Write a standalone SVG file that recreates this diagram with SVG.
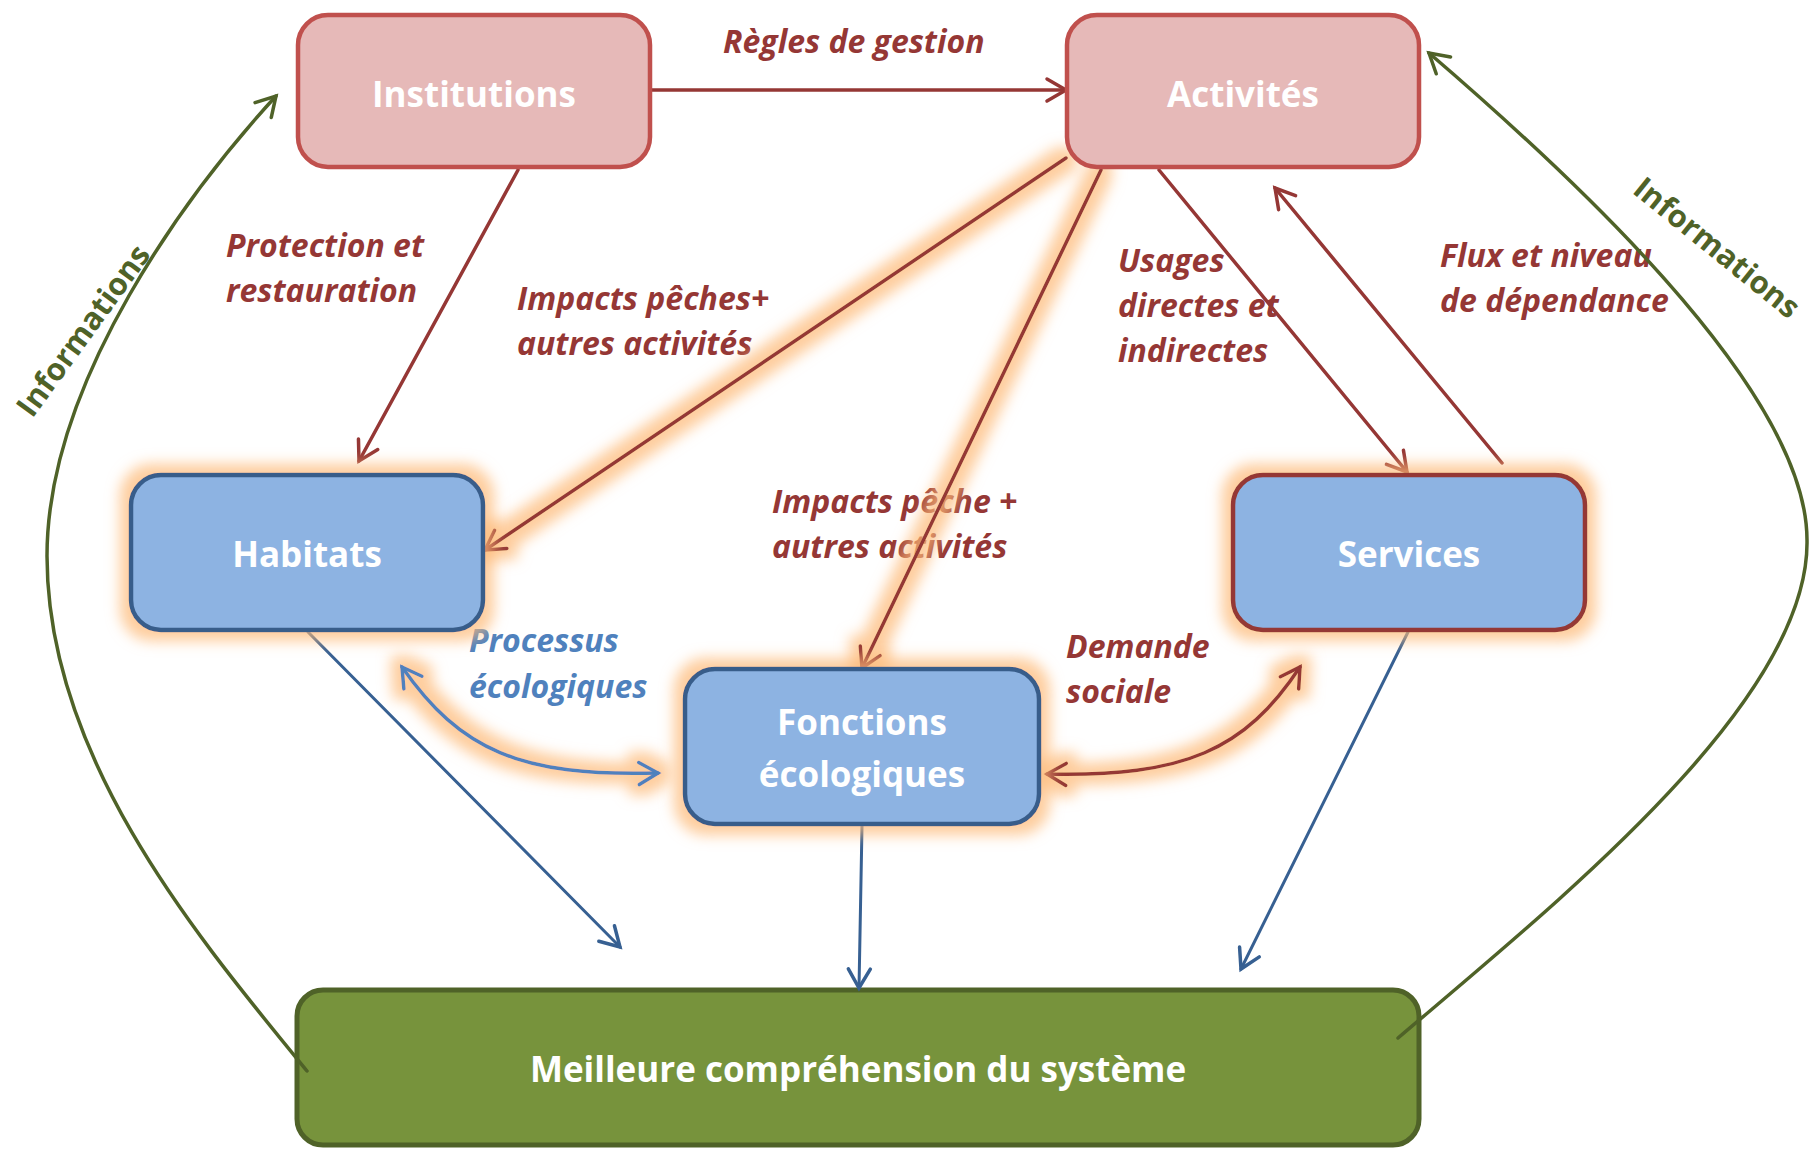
<svg xmlns="http://www.w3.org/2000/svg" width="1816" height="1152" viewBox="0 0 1816 1152">
  <defs>
    <style>
      .title { font-family: "Open Sans", "Noto Sans", "DejaVu Sans", sans-serif; font-weight: 700; font-size: 35px; fill: #ffffff; text-anchor: middle; }
      .lbl { font-family: "Open Sans", "Noto Sans", "DejaVu Sans", sans-serif; font-weight: 700; font-style: italic; font-size: 32px; }
      .red { fill: #953735; }
      .blue { fill: #4F81BD; }
      .info { font-family: "Open Sans", "Noto Sans", "DejaVu Sans", sans-serif; font-weight: 700; font-size: 31px; fill: #4F6228; text-anchor: middle; }
      .pink { fill: #E6B9B8; stroke: #C0504D; stroke-width: 4.5; }
      .sky { fill: #8DB3E2; stroke: #385D8A; stroke-width: 4.5; }
      .sky-red { fill: #8DB3E2; stroke: #953735; stroke-width: 4.5; }
      .olive { fill: #77933C; stroke: #4F6228; stroke-width: 5; }
      .c-red { fill: none; stroke: #953735; stroke-width: 3.5; stroke-linecap: round; marker-end: url(#ah-red); }
      .c-blue { fill: none; stroke: #376092; stroke-width: 3; stroke-linecap: round; marker-end: url(#ah-blue); }
      .c-green { fill: none; stroke: #4F6228; stroke-width: 3.5; stroke-linecap: round; marker-end: url(#ah-green); }
      .c-proc { fill: none; stroke: #4F81BD; stroke-width: 3.5; stroke-linecap: round; marker-start: url(#ah-lblue); marker-end: url(#ah-lblue); }
      .c-dem { fill: none; stroke: #953735; stroke-width: 3.5; stroke-linecap: round; marker-start: url(#ah-red); marker-end: url(#ah-red); }
    </style>
    <!-- open chevron arrowheads -->
    <marker id="ah-red" markerUnits="userSpaceOnUse" markerWidth="40" markerHeight="40" viewBox="-30 -20 40 40" refX="0" refY="0" orient="auto-start-reverse" overflow="visible">
      <path d="M-19,-11 L0,0 L-19,11" fill="none" stroke="#953735" stroke-width="3.5" stroke-linecap="round"/>
    </marker>
    <marker id="ah-blue" markerUnits="userSpaceOnUse" markerWidth="40" markerHeight="40" viewBox="-30 -20 40 40" refX="0" refY="0" orient="auto-start-reverse" overflow="visible">
      <path d="M-19,-11 L0,0 L-19,11" fill="none" stroke="#376092" stroke-width="3.5" stroke-linecap="round"/>
    </marker>
    <marker id="ah-lblue" markerUnits="userSpaceOnUse" markerWidth="40" markerHeight="40" viewBox="-30 -20 40 40" refX="0" refY="0" orient="auto-start-reverse" overflow="visible">
      <path d="M-19,-11 L0,0 L-19,11" fill="none" stroke="#4F81BD" stroke-width="3.5" stroke-linecap="round"/>
    </marker>
    <marker id="ah-green" markerUnits="userSpaceOnUse" markerWidth="40" markerHeight="40" viewBox="-30 -20 40 40" refX="0" refY="0" orient="auto-start-reverse" overflow="visible">
      <path d="M-19,-11 L0,0 L-19,11" fill="none" stroke="#4F6228" stroke-width="3.5" stroke-linecap="round"/>
    </marker>
    <!-- soft orange halo -->
    <filter id="glow" filterUnits="userSpaceOnUse" x="0" y="0" width="1816" height="1152">
      <feMorphology in="SourceAlpha" operator="dilate" radius="9" result="d"/>
      <feGaussianBlur in="d" stdDeviation="7" result="b"/>
      <feFlood flood-color="#FDBA78" flood-opacity="0.72"/>
      <feComposite in2="b" operator="in" result="g"/>
      <feMerge>
        <feMergeNode in="g"/>
        <feMergeNode in="SourceGraphic"/>
      </feMerge>
    </filter>
  </defs>

  <rect width="1816" height="1152" fill="#ffffff"/>

  <!-- edge labels -->
  <g id="labels">
    <text class="lbl red" x="723" y="53">Règles de gestion</text>
    <text class="lbl red" x="226" y="257">Protection et</text>
    <text class="lbl red" x="226" y="302">restauration</text>
    <text class="lbl red" x="517" y="310">Impacts pêches+</text>
    <text class="lbl red" x="517" y="355">autres activités</text>
    <text class="lbl red" x="1118" y="272">Usages</text>
    <text class="lbl red" x="1118" y="317">directes et</text>
    <text class="lbl red" x="1118" y="362">indirectes</text>
    <text class="lbl red" x="1440" y="267">Flux et niveau</text>
    <text class="lbl red" x="1440" y="312">de dépendance</text>
    <text class="lbl red" x="772" y="513">Impacts pêche +</text>
    <text class="lbl red" x="772" y="558">autres activités</text>
    <text class="lbl blue" x="469" y="652">Processus</text>
    <text class="lbl blue" x="469" y="698">écologiques</text>
    <text class="lbl red" x="1066" y="658">Demande</text>
    <text class="lbl red" x="1066" y="703">sociale</text>
    <text class="info" transform="translate(92,337) rotate(-54)">Informations</text>
    <text class="info" transform="translate(1710,256) rotate(39)">Informations</text>
  </g>

  <!-- bottom node sits under the feedback curves -->
  <g id="n-comprehension">
    <rect class="olive" x="297" y="990" width="1122" height="155" rx="26"/>
    <text class="title" x="858" y="1082">Meilleure compréhension du système</text>
  </g>

  <!-- connectors -->
  <g id="connectors">
    <path id="e-inst-act" class="c-red" d="M650,90 L1066,90"/>
    <path id="e-inst-hab" class="c-red" d="M518,170 L359,461"/>
    <path id="e-act-serv" class="c-red" d="M1159,170 L1407,472"/>
    <path id="e-serv-act" class="c-red" d="M1502,463 L1275,188"/>
    <g filter="url(#glow)">
      <path id="e-act-hab" class="c-red" d="M1066,158 L485,550"/>
      <path id="e-act-fonc" class="c-red" d="M1101,170 L862,668"/>
      <path id="e-hab-fonc" class="c-proc" d="M402,667 C460,750 520,777 658,773"/>
      <path id="e-fonc-serv" class="c-dem" d="M1047,774 C1185,777 1245,750 1300,667"/>
    </g>
    <path id="e-hab-mc" class="c-blue" d="M308,632 L620,947"/>
    <path id="e-fonc-mc" class="c-blue" d="M862,826 L859,988"/>
    <path id="e-serv-mc" class="c-blue" d="M1408,632 L1241,969"/>
    <path id="e-info-left" class="c-green" d="M307,1071 C200,940 47,760 47,556 C47,380 190,190 276,96"/>
    <path id="e-info-right" class="c-green" d="M1398,1038 C1560,900 1810,700 1807,540 C1807,400 1600,200 1429,53"/>
  </g>

  <!-- nodes -->
  <g id="n-institutions">
    <rect class="pink" x="298" y="15" width="352" height="152" rx="30"/>
    <text class="title" x="474" y="107">Institutions</text>
  </g>
  <g id="n-activites">
    <rect class="pink" x="1067" y="15" width="352" height="152" rx="30"/>
    <text class="title" x="1243" y="107">Activités</text>
  </g>
  <g id="n-habitats">
    <rect class="sky" x="131" y="475" width="352" height="155" rx="30" filter="url(#glow)"/>
    <text class="title" x="307" y="567">Habitats</text>
  </g>
  <g id="n-services">
    <rect class="sky-red" x="1233" y="475" width="352" height="155" rx="30" filter="url(#glow)"/>
    <text class="title" x="1409" y="567">Services</text>
  </g>
  <g id="n-fonctions">
    <rect class="sky" x="685" y="669" width="354" height="155" rx="30" filter="url(#glow)"/>
    <text class="title" x="862" y="735">Fonctions</text>
    <text class="title" x="862" y="787">écologiques</text>
  </g>
</svg>
